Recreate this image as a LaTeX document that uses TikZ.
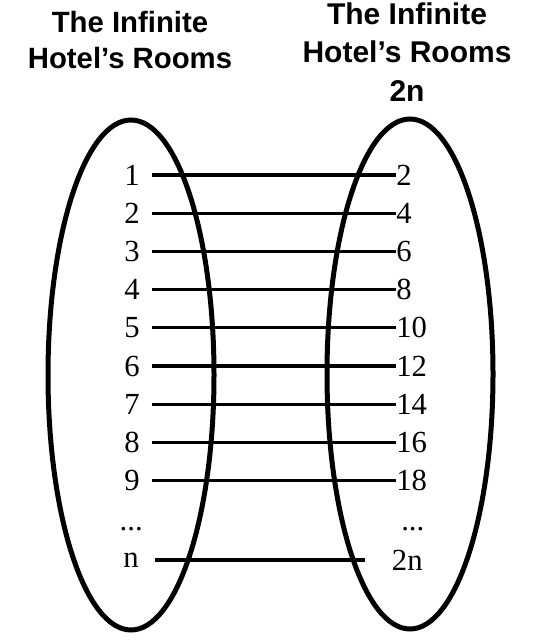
\documentclass[tikz,border=0pt]{standalone}
\usepackage{fontspec}
\setmainfont{Liberation Serif}
\newfontfamily\headfont{Liberation Sans}
\usetikzlibrary{shapes.geometric}

\begin{document}
\begin{tikzpicture}[x=0.75pt, y=-0.75pt,
  roomset/.style={ellipse, draw=black, line width=3.75pt, minimum width=124.5pt,
                  minimum height=382.5pt, inner sep=0pt},
  head/.style={align=center, inner sep=0pt, anchor=north},
  num/.style={font=\fontsize{23}{27}\selectfont, inner ysep=0pt},
  map/.style={line width=2.5pt, black},
]
\useasboundingbox (0,0) rectangle (546,642);

\node[roomset] (hotel)   at (131,375) {};
\node[roomset] (doubled) at (410,374) {};

\node[head, font=\headfont\bfseries\fontsize{22}{27}\selectfont] (hotellabel) at (130,11)
  {The Infinite\\Hotel’s Rooms};
\node[head, font=\headfont\bfseries\fontsize{22.5}{29}\selectfont] (doubledlabel) at (407,2)
  {The Infinite\\Hotel’s Rooms\\2n};

\foreach \i [evaluate=\i as \y using 175+(\i-1)*38.2, evaluate=\i as \j using int(2*\i)] in {1,...,9}{
  \node[num, anchor=east, inner xsep=9pt] (l\i) at (152,\y) {\i};
  \node[num, anchor=west, inner xsep=0pt] (r\i) at (396,\y) {\j};
  \draw[map] (l\i.east) -- (r\i.west);
}

\node[num, anchor=base east, inner xsep=0pt] (ldots) at (143,530) {...};
\node[num, anchor=base west, inner xsep=0pt] (rdots) at (401,530) {...};

\node[num, anchor=east, inner xsep=12pt] (ln) at (155,560) {n};
\node[num, anchor=west, inner xsep=20pt] (rn) at (365,560) {2n};
\draw[map] (ln.east) -- (rn.west);

\end{tikzpicture}
\end{document}
